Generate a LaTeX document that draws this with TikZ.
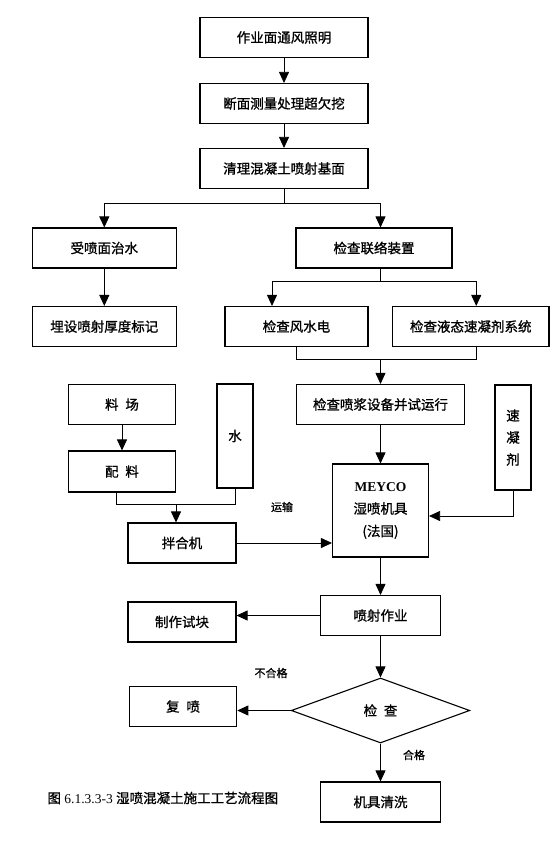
\documentclass[tikz,border=0pt]{standalone}
\usepackage{fontspec}
\setmainfont{Liberation Serif}
\newfontfamily\cjk[FakeBold=1]{Noto Sans CJK SC}
\usepackage{tikz}
\usetikzlibrary{arrows.meta}
\usetikzlibrary{calc}
\usetikzlibrary{shapes.geometric}
\tikzstyle{box} = [draw, line width=1.1pt, minimum height=40pt, inner sep=0pt, font=\cjk\fontsize{13.5}{16}\selectfont]
\tikzstyle{arrow} = [line width=0.8pt,-{Triangle[length=11pt,width=10pt]}]
\tikzstyle{line} = [line width=0.8pt]
\tikzstyle{note} = [font=\cjk\fontsize{11}{13}\selectfont]

\begin{document}
\begin{tikzpicture}[x=1pt, y=-1pt]
	\useasboundingbox (0,0) rectangle (556,861);
	
	% main column
	\node (light) [box, minimum width=168pt] at (284,37.5) {作业面通风照明};
	\node (survey) [box, minimum width=168pt] at (284,103.5) {断面测量处理超欠挖};
	\node (clean) [box, minimum width=168pt] at (284,168.5) {清理混凝土喷射基面};
	
	\node (treat) [box, minimum width=143.5pt] at (104.3,248) {受喷面治水};
	\node (embed) [box, minimum width=143.5pt] at (104.3,326.5) {埋设喷射厚度标记};
	\node (link) [box, minimum width=156pt] at (374,248) {检查联络装置};
	\node (wwp) [box, minimum width=143pt] at (296.5,326.5) {检查风水电};
	\node (accsys) [box, minimum width=156.5pt] at (470.75,326.5) {检查液态速凝剂系统};
	\node (pump) [box, minimum width=168pt] at (380.5,404.5) {检查喷浆设备并试运行};
	
	% materials
	\node (yard) [box, minimum width=107.5pt] at (122,404.5) {料\enspace 场};
	\node (batch) [box, minimum width=107.5pt, minimum height=41pt] at (122,471.5) {配\enspace 料};
	\node (water) [box, minimum width=36pt, minimum height=104pt] at (235,436) {水};
	\node (accel) [box,
		minimum width=36pt,
		minimum height=105pt,
		align=center,
		font=\cjk\fontsize{13.5}{22}\selectfont
		] at (513,437.5) {速\\凝\\剂};
	\node (mixer) [box, minimum width=108pt] at (182,543) {拌合机};
	
	% spraying
	\node (meyco) [box,
		minimum width=96pt,
		minimum height=93pt,
		align=center,
		font=\cjk\fontsize{13.5}{22.5}\selectfont
		] at (380.5,510.5) {{\rmfamily\bfseries MEYCO}\\湿喷机具\\(法国)};
	\node (spray) [box, minimum width=120pt] at (380.5,615.5) {喷射作业};
	\node (sample) [box, minimum width=108pt] at (182,622) {制作试块};
	\node (check) [draw,
		diamond,
		line width=1.1pt,
		inner sep=0pt,
		minimum width=178.5pt,
		minimum height=65pt,
		font=\cjk\fontsize{13.5}{16}\selectfont
		] at (380.5,710.5) {检\enspace 查};
	\node (respray) [box, minimum width=107.5pt] at (183,706.5) {复\enspace 喷};
	\node (wash) [box, minimum width=120.5pt] at (380.5,802) {机具清洗};
	
	\node (caption) [anchor=west, font=\fontsize{13.5}{16}\selectfont] at (44,798) {{\cjk 图} 6.1.3.3-3 {\cjk 湿喷混凝土施工工艺流程图}};
	
	% connectors
	\draw [arrow] (light) -- (survey);
	\draw [arrow] (survey) -- (clean);
	\draw [line] (clean.south) -- ++(0,14) coordinate (split1);
	\draw [arrow] (split1) -| (treat.north);
	\draw [arrow] (split1) -| ($(link.north)+(6.5,0)$);
	\draw [arrow] (treat) -- (embed);
	\draw [line] ($(link.south)+(6.5,0)$) -- ++(0,13) coordinate (split2);
	\draw [arrow] (split2) -| ($(wwp.north)+(-24.5,0)$);
	\draw [arrow] (split2) -| ($(accsys.north)+(5.5,0)$);
	\draw [line] (wwp.south) -- ++(0,12) coordinate (joinL) -| ($(accsys.south)+(5.5,0)$);
	\draw [arrow] (joinL -| pump.north) -- (pump.north);
	\draw [arrow] (pump) -- (meyco);
	
	\draw [arrow] (yard) -- (batch);
	\draw [line] ($(batch.south)+(-6,0)$) -- ++(0,12) coordinate (mixjoin) -| (water.south);
	\coordinate (mixtop) at ($(mixer.north)+(-6,0)$);
	\draw [arrow] (mixtop |- mixjoin) -- (mixtop);
	\draw [arrow] (mixer.east) -- (mixer.east -| meyco.west);
	\node (transport) [note] at (282,507) {运输};
	\draw [arrow] (accel.south) |- ($(meyco.east)+(0,5.5)$);
	
	\draw [arrow] (meyco) -- (spray);
	\draw [arrow] (spray.west) -- (spray.west -| sample.east);
	\draw [arrow] (spray) -- (check);
	\draw [arrow] (check.west) -- (check.west -| respray.east);
	\node (fail) [note] at (271,673) {不合格};
	\draw [arrow] (check) -- (wash);
	\node (pass) [note] at (414,755) {合格};
\end{tikzpicture}
\end{document}
